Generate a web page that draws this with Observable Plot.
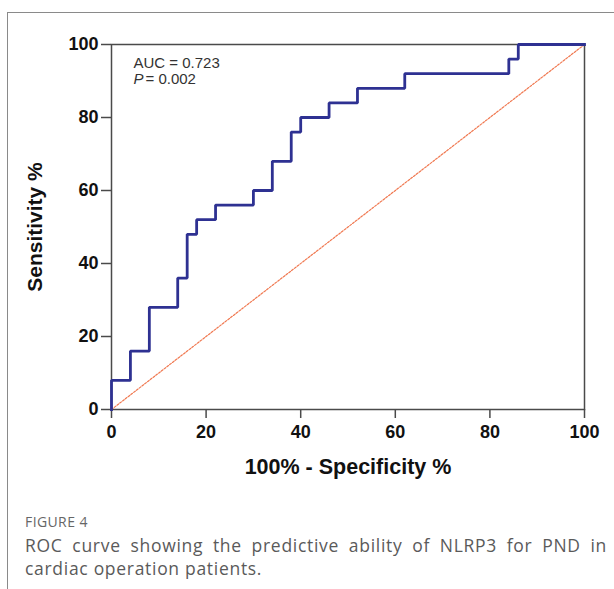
<!DOCTYPE html>
<html>
<head>
<meta charset="utf-8">
<script src="https://cdn.jsdelivr.net/npm/d3@7"></script>
<script src="https://cdn.jsdelivr.net/npm/@observablehq/plot@0.6"></script>
<style>
  html, body { margin: 0; padding: 0; background: #fff; }
  #page { position: relative; width: 614px; height: 589px; overflow: hidden; background: #fff; }
  #border { position: absolute; left: 7px; top: 12px; right: -2px; bottom: -2px;
            border-left: 1px solid #8a8a8a; border-top: 1px solid #8a8a8a; z-index: 2; pointer-events: none; }
  #chart { position: absolute; left: 0; top: 0; z-index: 1; }
  #fig { position: absolute; left: 25px; top: 512px; font-family: "Open Sans", sans-serif;
         font-size: 14px; color: #666; letter-spacing: 0.4px; }
  #cap { position: absolute; left: 25px; top: 534px; width: 582px; font-family: "Open Sans", sans-serif;
         font-size: 17.5px; line-height: 23px; color: #5a5a5a; text-align: justify; font-weight: 400;
         letter-spacing: 0.7px; }
</style>
</head>
<body>
<div id="page">
  <div id="border"></div>
  <div id="chart"></div>
  <div id="fig">FIGURE 4</div>
  <div id="cap">ROC curve showing the predictive ability of NLRP3 for PND in cardiac operation patients.</div>
</div>
<script>
// ROC curve data (100% - Specificity %, Sensitivity %)
const fpr = [0, 0, 4, 8, 14, 16, 18, 22, 30, 34, 38, 40, 46, 52, 62, 84, 86, 100];
const tpr = [0, 8, 16, 28, 36, 48, 52, 56, 60, 68, 76, 80, 84, 88, 92, 96, 100, 100];
const xTicks = [0, 20, 40, 60, 80, 100];
const yTicks = [0, 20, 40, 60, 80, 100];
const refLine = [0, 100];
const aucText = ["AUC = 0.723"];
const pSymbol = ["P"];
const pValue = ["= 0.002"];
const xLabel = ["100% - Specificity %"];
const yLabel = ["Sensitivity %"];

const roc = fpr.map((x, i) => ({x, y: tpr[i]}));

const axisColor = "#4a4a4a";
const font = "'Liberation Sans', Arial, Helvetica, sans-serif";

const chart = Plot.plot({
  width: 614,
  height: 500,
  marginLeft: 111,
  marginRight: 30,
  marginTop: 44,
  marginBottom: 91,
  x: {domain: [0, 100]},
  y: {domain: [0, 100]},
  style: {background: "transparent", fontFamily: font},
  marks: [
    Plot.frame({stroke: axisColor, strokeWidth: 1.5}),
    Plot.axisX({ticks: xTicks, tickSize: 9, tickPadding: 7, fontSize: 18, fontWeight: "bold",
                stroke: axisColor, strokeWidth: 1.5, fill: "#111", label: null, tickFormat: d => d}),
    Plot.axisY({ticks: yTicks, tickSize: 10, tickPadding: 3, fontSize: 18, fontWeight: "bold",
                stroke: axisColor, strokeWidth: 1.5, fill: "#111", label: null, tickFormat: d => d}),
    Plot.line(refLine, {x: d => d, y: d => d, stroke: "#f07850", strokeWidth: 1.2, strokeDasharray: "2,1.5"}),
    Plot.line(roc, {x: "x", y: "y", curve: "step-after", stroke: "#2e3192", strokeWidth: 2.8, strokeLinejoin: "miter", strokeLinecap: "square"}),
    Plot.text(aucText, {text: d => d, frameAnchor: "top-left", dx: 22, dy: 13, lineAnchor: "top", textAnchor: "start",
                        fontSize: 15, fill: "#333"}),
    Plot.text(pSymbol, {text: d => d, frameAnchor: "top-left", dx: 22, dy: 29, lineAnchor: "top", textAnchor: "start",
                        fontSize: 15, fontStyle: "italic", fill: "#333"}),
    Plot.text(pValue, {text: d => d, frameAnchor: "top-left", dx: 34, dy: 29, lineAnchor: "top", textAnchor: "start",
                       fontSize: 15, fill: "#333"}),
    Plot.text(xLabel, {text: d => d, frameAnchor: "bottom", dy: 58, lineAnchor: "middle", textAnchor: "middle",
                       fontSize: 21.5, fontWeight: "bold", fill: "#111"}),
    Plot.text(yLabel, {text: d => d, frameAnchor: "left", dx: -76, rotate: -90, lineAnchor: "middle", textAnchor: "middle",
                       fontSize: 21, fontWeight: "bold", fill: "#111"})
  ]
});
document.getElementById("chart").appendChild(chart);
</script>
</body>
</html>
